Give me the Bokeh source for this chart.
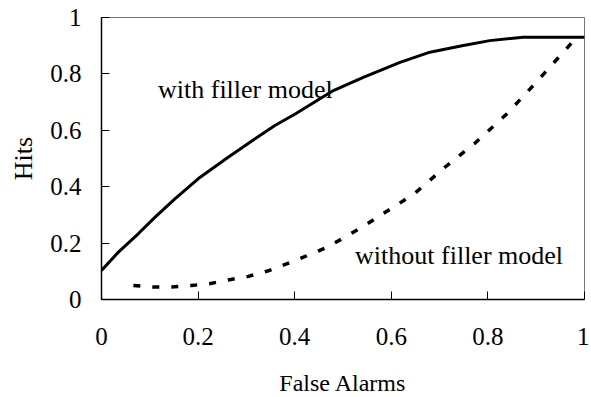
from bokeh.plotting import figure
from bokeh.models import FixedTicker, Range1d
from bokeh.core.properties import value
from bokeh.embed import file_html
from bokeh.resources import INLINE

# Data
with_x = [0.0, 0.035, 0.076, 0.111, 0.152, 0.2, 0.263, 0.318, 0.359, 0.401,
          0.48, 0.542, 0.618, 0.68, 0.749, 0.804, 0.873, 1.0]
with_y = [0.103, 0.168, 0.233, 0.292, 0.357, 0.428, 0.505, 0.570, 0.617, 0.658,
          0.741, 0.788, 0.841, 0.877, 0.901, 0.918, 0.930, 0.930]

without_x = [0.066, 0.106, 0.145, 0.187, 0.223, 0.265, 0.304, 0.342, 0.383, 0.418,
             0.463, 0.5, 0.542, 0.577, 0.615, 0.649, 0.711, 0.773, 0.839, 0.894,
             0.953, 0.984]
without_y = [0.050, 0.044, 0.044, 0.050, 0.056, 0.070, 0.082, 0.100, 0.126, 0.150,
             0.182, 0.217, 0.259, 0.298, 0.339, 0.377, 0.469, 0.554, 0.658, 0.759,
             0.871, 0.930]

tick_values = [0, 0.2, 0.4, 0.6, 0.8, 1]
tick_labels = ["0", "0.2", "0.4", "0.6", "0.8", "1"]

labels_text = ["with filler model", "without filler model"]
labels_x = [0.117, 0.525]
labels_y = [0.745, 0.156]

FONT = "Liberation Serif"

p = figure(width=589, height=389, output_backend="svg", toolbar_location=None,
           x_range=Range1d(0, 1), y_range=Range1d(0, 1),
           min_border_left=101, min_border_right=5, min_border_top=17, min_border_bottom=90)
p.frame_width = 483
p.frame_height = 282

p.line(with_x, with_y, line_color="black", line_width=3)
p.line(without_x, without_y, line_color="black", line_width=3.5, line_dash="7 12")

p.text(x=labels_x, y=labels_y, text=labels_text, text_font=value(FONT),
       text_font_size="26px", text_color="#000000", text_align="left",
       text_baseline="alphabetic")

p.xgrid.visible = False
p.ygrid.visible = False
p.outline_line_color = "#777777"
p.outline_line_width = 1
p.background_fill_color = "white"
p.border_fill_color = "white"

for ax in (p.xaxis[0], p.yaxis[0]):
    ax.ticker = FixedTicker(ticks=tick_values)
    ax.major_label_overrides = {v: l for v, l in zip(tick_values, tick_labels)}
    ax.minor_tick_line_color = None
    ax.major_tick_in = 8
    ax.major_tick_out = 0
    ax.axis_line_color = "black"
    ax.axis_line_width = 1.5
    ax.major_tick_line_color = "black"
    ax.major_tick_line_width = 1
    ax.major_label_text_font = FONT
    ax.major_label_text_font_size = "25px"
    ax.major_label_text_color = "#000000"
    ax.axis_label_text_font = FONT
    ax.axis_label_text_font_style = "normal"
    ax.axis_label_text_color = "#000000"

p.xaxis[0].axis_label = "False Alarms"
p.yaxis[0].axis_label = "Hits"
p.xaxis[0].axis_label_text_font_size = "24px"
p.yaxis[0].axis_label_text_font_size = "26px"
p.xaxis[0].major_label_standoff = 28
p.yaxis[0].major_label_standoff = 20
p.xaxis[0].axis_label_standoff = 22
p.yaxis[0].axis_label_standoff = 9

open("out.html", "w").write(file_html(p, INLINE))
